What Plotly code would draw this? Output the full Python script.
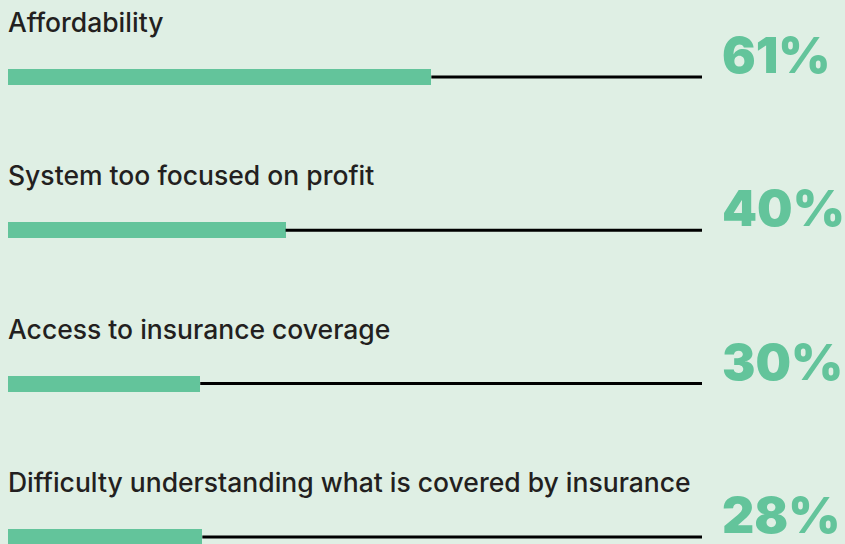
import plotly.graph_objects as go

# Survey: biggest problems with the health care system (% of respondents)
categories = [
    "Affordability",
    "System too focused on profit",
    "Access to insurance coverage",
    "Difficulty understanding what is covered by insurance",
]
shares = [61, 40, 30, 28]              # printed percentages
bar_lengths = [61, 40, 27.7, 28]       # drawn bar lengths

BG = "#DFEFE4"
GREEN = "#63C49B"
INK = "#231F20"

rows = list(range(len(categories)))

# track line: from the end of each bar to 100 %
track_x, track_y = [], []
for r, v in zip(rows, bar_lengths):
    track_x += [v, 100, None]
    track_y += [r, r, None]

fig = go.Figure()
fig.add_trace(
    go.Scatter(
        x=track_x, y=track_y, mode="lines",
        line=dict(color="black", width=3),
        hoverinfo="skip", showlegend=False,
    )
)
fig.add_trace(
    go.Bar(
        x=bar_lengths, y=rows, orientation="h",
        width=0.105, marker=dict(color=GREEN, line=dict(width=0)),
        hovertext=categories, hoverinfo="text+x", showlegend=False,
    )
)

for r, label, pct in zip(rows, categories, shares):
    fig.add_annotation(
        x=0, y=r, xref="x", yref="y", text=label, showarrow=False,
        xanchor="left", yanchor="middle", yshift=55, xshift=-2,
        font=dict(family="Inter", size=26.5, color=INK, weight=500),
    )
    fig.add_annotation(
        x=1, y=r, xref="paper", yref="y", text=f"{pct}%", showarrow=False,
        xanchor="left", yanchor="middle", yshift=22, xshift=18,
        font=dict(family="Inter", size=50, color=GREEN, weight=900),
    )

fig.update_layout(
    width=845, height=544,
    paper_bgcolor=BG, plot_bgcolor=BG,
    margin=dict(l=8, r=143, t=0, b=0),
    bargap=0,
    xaxis=dict(range=[0, 100], visible=False, fixedrange=True),
    yaxis=dict(range=[3.046, -0.502], visible=False, fixedrange=True),
)

fig.write_html(
    "out.html",
    config={"displayModeBar": False},
    post_script="document.body.style.margin='0';",
)
